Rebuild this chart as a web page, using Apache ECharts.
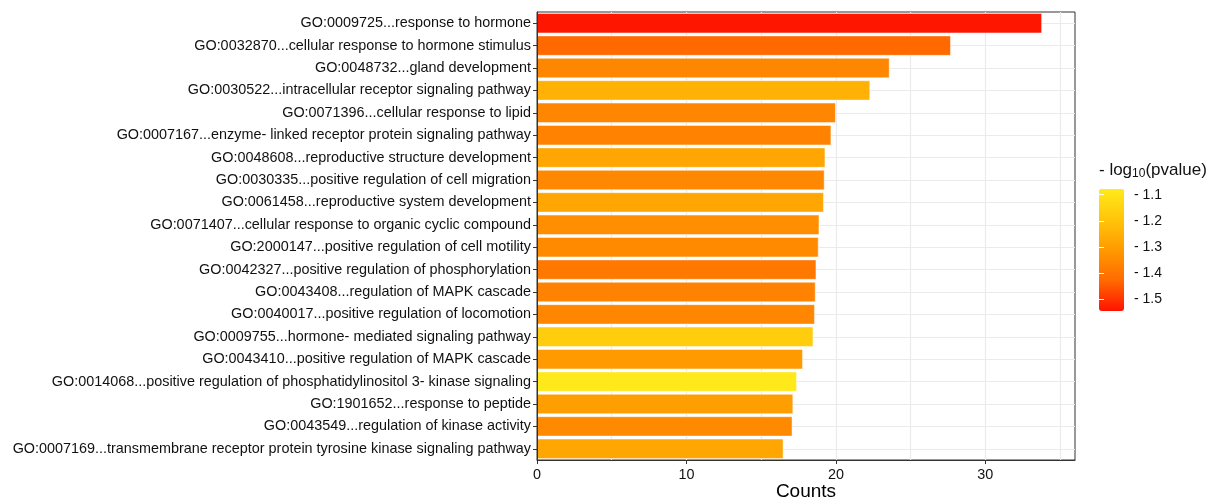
<!DOCTYPE html>
<html>
<head>
<meta charset="utf-8">
<script src="https://cdn.jsdelivr.net/npm/echarts@6/dist/echarts.min.js"></script>
<style>
  html, body { margin: 0; padding: 0; background: #ffffff; }
  #chart { width: 1209px; height: 499px; }
</style>
</head>
<body>
<div id="chart"></div>
<script>
// GO terms, top to bottom
const terms = [
  'GO:0009725...response to hormone',
  'GO:0032870...cellular response to hormone stimulus',
  'GO:0048732...gland development',
  'GO:0030522...intracellular receptor signaling pathway',
  'GO:0071396...cellular response to lipid',
  'GO:0007167...enzyme- linked receptor protein signaling pathway',
  'GO:0048608...reproductive structure development',
  'GO:0030335...positive regulation of cell migration',
  'GO:0061458...reproductive system development',
  'GO:0071407...cellular response to organic cyclic compound',
  'GO:2000147...positive regulation of cell motility',
  'GO:0042327...positive regulation of phosphorylation',
  'GO:0043408...regulation of MAPK cascade',
  'GO:0040017...positive regulation of locomotion',
  'GO:0009755...hormone- mediated signaling pathway',
  'GO:0043410...positive regulation of MAPK cascade',
  'GO:0014068...positive regulation of phosphatidylinositol 3- kinase signaling',
  'GO:1901652...response to peptide',
  'GO:0043549...regulation of kinase activity',
  'GO:0007169...transmembrane receptor protein tyrosine kinase signaling pathway'
];

// bar lengths
const counts = [33.8, 27.7, 23.6, 22.3, 20.0, 19.7, 19.3, 19.25, 19.2, 18.9,
                18.85, 18.7, 18.65, 18.6, 18.5, 17.8, 17.4, 17.15, 17.1, 16.5];

// fill values (- log10 pvalue)
const logP = [-1.54, -1.43, -1.36, -1.25, -1.36, -1.37, -1.28, -1.355, -1.28, -1.34,
              -1.35, -1.395, -1.37, -1.36, -1.17, -1.31, -1.08, -1.30, -1.35, -1.28];

// axis ticks
const countTicks = [0, 10, 20, 30];
const colorTicks = [-1.5, -1.4, -1.3, -1.2, -1.1];
const colorRange = [-1.545, -1.078];

const FONT = "'Liberation Sans', Arial, sans-serif";
const TXT = '#111111';
const FS = 14.4;

const chart = echarts.init(document.getElementById('chart'), null, { renderer: 'canvas' });

const barData = terms.map((t, i) => [counts[i], t, logP[i]]);

const option = {
  backgroundColor: '#ffffff',
  animation: false,
  textStyle: { fontFamily: FONT },
  title: {
    text: '- log{sub|10}(pvalue)',
    left: 1099,
    top: 161,
    padding: 0,
    textStyle: {
      fontFamily: FONT,
      fontSize: 17,
      fontWeight: 'normal',
      color: TXT,
      rich: {
        sub: { fontFamily: FONT, fontSize: 12, color: TXT, padding: [7, 0, 0, 0] }
      }
    }
  },
  grid: [
    {
      left: 537, right: 134, top: 12, bottom: 39,
      outerBoundsMode: 'none',
      show: true, borderColor: '#333333', borderWidth: 1,
      backgroundColor: 'transparent'
    },
    { left: 1099, top: 189, width: 25, height: 122, outerBoundsMode: 'none', show: false }
  ],
  visualMap: {
    type: 'continuous',
    seriesIndex: 0,
    dimension: 2,
    min: colorRange[0],
    max: colorRange[1],
    left: 1099,
    top: 189,
    itemWidth: 25,
    itemHeight: 122,
    padding: 0,
    calculable: false,
    hoverLink: false,
    showLabel: false,
    inRange: { color: ['#FF1200', '#FF6A00', '#FF9A00', '#FFC50A', '#FFEA1A'] }
  },
  xAxis: [
    {
      gridIndex: 0,
      type: 'value',
      min: 0, max: 36, interval: 10,
      z: 5,
      name: 'Counts',
      nameLocation: 'middle',
      nameGap: 22,
      nameMoveOverlap: false,
      nameTextStyle: { fontFamily: FONT, fontSize: 19, color: '#000', verticalAlign: 'top' },
      axisLine: { show: true, lineStyle: { color: '#333333', width: 1 } },
      axisTick: { show: true, length: 4, customValues: countTicks, lineStyle: { color: '#333333', width: 1 } },
      axisLabel: { customValues: countTicks, margin: 8, fontFamily: FONT, fontSize: FS, color: TXT },
      splitLine: { show: false }
    },
    {
      // background grid lines every 5
      gridIndex: 0,
      type: 'value',
      min: 0, max: 36, interval: 5,
      z: 0,
      axisLine: { show: false },
      axisTick: { show: false },
      axisLabel: { show: false },
      splitLine: { show: true, showMinLine: false, showMaxLine: false, lineStyle: { color: '#EBEBEB', width: 1.2 } }
    },
    { gridIndex: 1, type: 'value', show: false, min: 0, max: 1 }
  ],
  yAxis: [
    {
      gridIndex: 0,
      type: 'category',
      data: terms,
      inverse: true,
      z: 5,
      axisLine: { show: true, lineStyle: { color: '#333333', width: 1 } },
      axisTick: { show: true, length: 4, alignWithLabel: true, lineStyle: { color: '#333333', width: 1 } },
      axisLabel: { margin: 6, fontFamily: FONT, fontSize: FS, color: TXT },
      splitLine: { show: false }
    },
    {
      // colour bar scale, labels on the right
      gridIndex: 1,
      type: 'value',
      position: 'right',
      min: colorRange[0], max: colorRange[1],
      z: 10,
      axisLine: { show: false },
      axisTick: { show: true, inside: true, length: 5, customValues: colorTicks, lineStyle: { color: '#ffffff', width: 1 } },
      axisLabel: {
        customValues: colorTicks,
        margin: 10,
        fontFamily: FONT, fontSize: 14, color: TXT,
        formatter: v => '- ' + Math.abs(v).toFixed(1)
      },
      splitLine: { show: false }
    },
    {
      // inner ticks on the left edge of the colour bar
      gridIndex: 1,
      type: 'value',
      position: 'left',
      min: colorRange[0], max: colorRange[1],
      z: 10,
      axisLine: { show: false },
      axisTick: { show: true, inside: true, length: 5, customValues: colorTicks, lineStyle: { color: '#ffffff', width: 1 } },
      axisLabel: { show: false },
      splitLine: { show: false }
    }
  ],
  series: [
    {
      type: 'bar',
      xAxisIndex: 0,
      yAxisIndex: 0,
      data: barData,
      encode: { x: 0, y: 1 },
      barCategoryGap: '9%',
      z: 3,
      silent: true,
      itemStyle: { borderColor: 'rgba(255,255,255,0.45)', borderWidth: 1 }
    },
    {
      // horizontal grid lines through each category
      type: 'line',
      xAxisIndex: 0,
      yAxisIndex: 0,
      data: [],
      z: 1,
      silent: true,
      markLine: {
        z: 1,
        silent: true,
        symbol: 'none',
        label: { show: false },
        lineStyle: { color: '#EBEBEB', width: 1.2, type: 'solid' },
        data: terms.map(t => ({ yAxis: t }))
      }
    }
  ]
};

chart.setOption(option);
</script>
</body>
</html>
